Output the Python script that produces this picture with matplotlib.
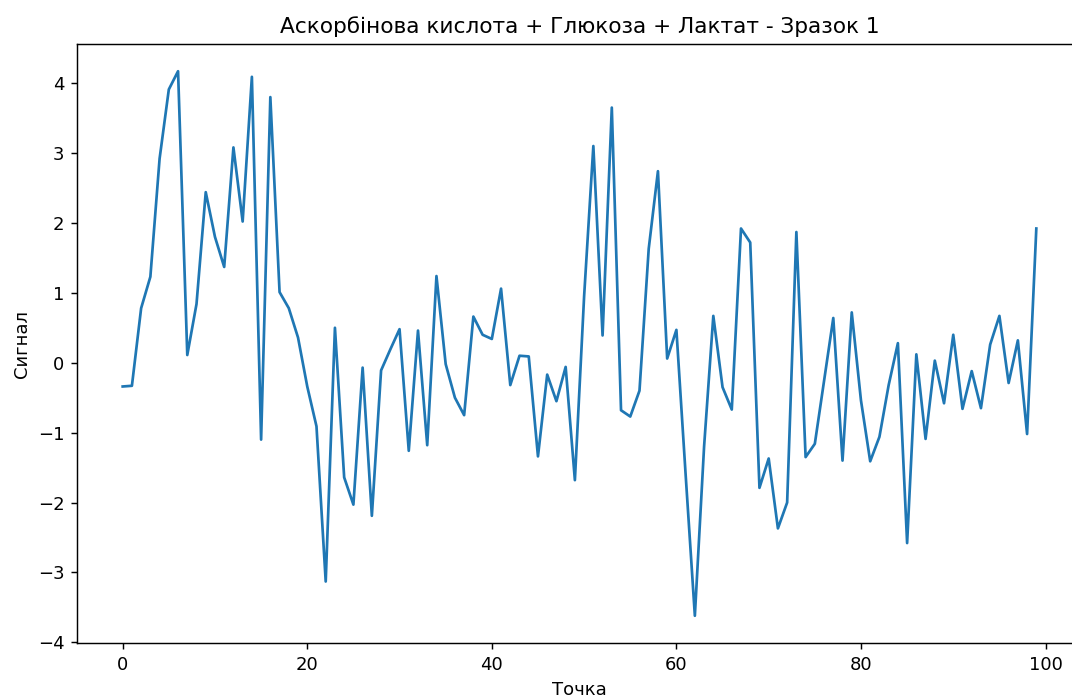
import numpy as np
import matplotlib
matplotlib.use("Agg")
import matplotlib.pyplot as plt
from matplotlib.transforms import Bbox

title = "Аскорбінова кислота + Глюкоза + Лактат - Зразок 1"
x_label = "Точка"
y_label = "Сигнал"

signal = [
    -0.34, -0.33, 0.78, 1.23, 2.92, 3.91, 4.17, 0.11, 0.84, 2.44,
    1.80, 1.37, 3.08, 2.02, 4.09, -1.10, 3.80, 1.01, 0.78, 0.36,
    -0.34, -0.91, -3.13, 0.50, -1.64, -2.03, -0.07, -2.19, -0.11, 0.19,
    0.48, -1.26, 0.46, -1.18, 1.24, -0.02, -0.50, -0.75, 0.66, 0.40,
    0.34, 1.06, -0.32, 0.10, 0.09, -1.34, -0.17, -0.55, -0.06, -1.68,
    0.95, 3.10, 0.39, 3.65, -0.68, -0.77, -0.40, 1.63, 2.74, 0.06,
    0.47, -1.60, -3.62, -1.20, 0.67, -0.35, -0.67, 1.92, 1.72, -1.79,
    -1.37, -2.37, -2.00, 1.87, -1.35, -1.16, -0.26, 0.64, -1.40, 0.72,
    -0.54, -1.41, -1.06, -0.32, 0.28, -2.58, 0.12, -1.09, 0.03, -0.58,
    0.40, -0.66, -0.12, -0.65, 0.26, 0.67, -0.29, 0.32, -1.02, 1.92,
]
points = np.arange(len(signal))

dpi = 130
W, H = 1072, 699
FULL_W = 1120  # drawing canvas; the saved image keeps only the left W pixels
fig = plt.figure(figsize=(FULL_W / dpi, H / dpi), dpi=dpi)
ax = fig.add_axes([77 / FULL_W, 56 / H, 1005 / FULL_W, 599 / H])
ax.plot(points, signal, color="#1f77b4", linewidth=1.5)
ax.set_title(title)
ax.set_xlabel(x_label)
ax.set_ylabel(y_label)

fig.savefig("out.png", dpi=dpi, bbox_inches=Bbox([[0, 0], [W / dpi, H / dpi]]))
